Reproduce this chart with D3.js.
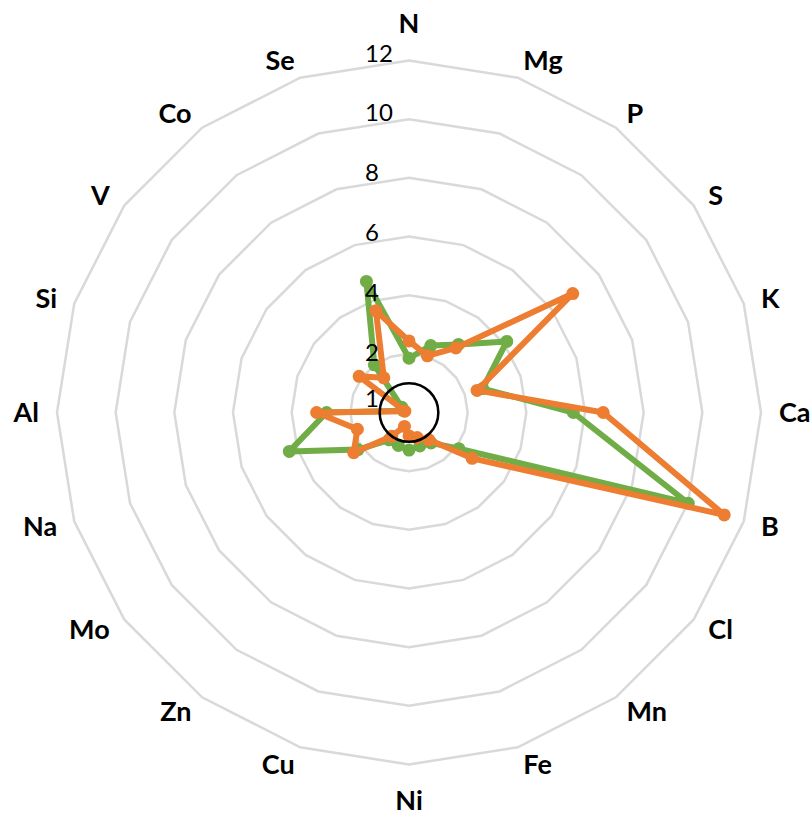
<!DOCTYPE html>
<html>
<head>
<meta charset="utf-8">
<script src="https://cdn.jsdelivr.net/npm/d3@7"></script>
<style>
  body { margin: 0; background: #fff; }
  text { font-family: Lato, "Liberation Sans", sans-serif; }
</style>
</head>
<body>
<div id="radar"></div>
<script>
var categories = ["N", "Mg", "P", "S", "K", "Ca", "B", "Cl", "Mn", "Fe", "Ni", "Cu", "Zn", "Mo", "Na", "Al", "Si", "V", "Co", "Se"];
var greenValues = [1.85, 2.40, 2.87, 4.12, 2.64, 5.60, 10.01, 2.10, 1.28, 1.20, 1.28, 1.18, 1.15, 2.15, 4.29, 2.81, 0.20, 0.30, 2.01, 4.70];
var orangeValues = [2.44, 2.03, 2.72, 6.90, 2.44, 6.62, 11.30, 2.66, 1.15, 0.90, 0.80, 0.50, 1.00, 2.33, 1.85, 3.15, 0.15, 2.10, 1.46, 3.65];
var tickValues = [2, 4, 6, 8, 10, 12];
var thresholdValue = 1;

function drawRadar() {
    var width = 810, height = 816;
    var cx = 409, cy = 412.5, radius = 352;

    var svg = d3.select("#radar")
        .append("svg")
        .attr("width", width)
        .attr("height", height);

    var g = svg.append("g")
        .attr("transform", "translate(" + cx + "," + cy + ")");

    var r = d3.scaleLinear().domain([0, 12]).range([0, radius]);
    var angle = d3.scalePoint()
        .domain(categories)
        .range([0, 2 * Math.PI * (categories.length - 1) / categories.length]);

    function px(cat, v) { return r(v) * Math.sin(angle(cat)); }
    function py(cat, v) { return -r(v) * Math.cos(angle(cat)); }

    // grid polygons
    g.append("g")
        .selectAll("polygon")
        .data(tickValues)
        .enter().append("polygon")
        .attr("points", function(t) {
            return categories.map(function(c) { return px(c, t) + "," + py(c, t); }).join(" ");
        })
        .attr("fill", "none")
        .attr("stroke", "#d9d9d9")
        .attr("stroke-width", 2.5);

    // series
    var series = [
        {name: "green", values: greenValues, color: "#70ad47"},
        {name: "orange", values: orangeValues, color: "#ed7d31"}
    ];

    var line = d3.lineRadial()
        .angle(function(d, i) { return angle(categories[i]); })
        .radius(function(d) { return r(d); })
        .curve(d3.curveLinearClosed);

    var sg = g.selectAll(".series")
        .data(series)
        .enter().append("g")
        .attr("class", "series");

    sg.append("path")
        .attr("d", function(s) { return line(s.values); })
        .attr("fill", "none")
        .attr("stroke", function(s) { return s.color; })
        .attr("stroke-width", 6)
        .attr("stroke-linejoin", "round");

    sg.selectAll("circle")
        .data(function(s) { return s.values.map(function(v, i) { return {v: v, c: categories[i], color: s.color}; }); })
        .enter().append("circle")
        .attr("cx", function(d) { return px(d.c, d.v); })
        .attr("cy", function(d) { return py(d.c, d.v); })
        .attr("r", 6.5)
        .attr("fill", function(d) { return d.color; });

    // threshold circle at 1
    g.append("circle")
        .attr("r", r(thresholdValue))
        .attr("fill", "none")
        .attr("stroke", "#000")
        .attr("stroke-width", 2.5);

    // tick labels (drawn over the series, as in the original)
    g.append("g")
        .selectAll("text")
        .data(tickValues)
        .enter().append("text")
        .attr("x", -44)
        .attr("y", function(t) { return -r(t) + 1 + (12 - t) * 0.6; })
        .attr("font-size", 24)
        .attr("fill", "#000")
        .text(function(t) { return t; });

    g.append("text")
        .attr("x", -44)
        .attr("y", -6)
        .attr("font-size", 24)
        .attr("fill", "#000")
        .text(thresholdValue);

    // category labels
    g.append("g")
        .selectAll("text")
        .data(categories)
        .enter().append("text")
        .attr("x", function(c) { return (radius + 18) * Math.sin(angle(c)); })
        .attr("y", function(c) {
            var s = Math.sin(angle(c)), co = Math.cos(angle(c));
            var y = -(radius + 18) * co;
            if (Math.abs(s) < 0.01) return co > 0 ? y - 10 : y + 27;
            return y + 9.5;
        })
        .attr("text-anchor", function(c) {
            var s = Math.sin(angle(c));
            if (Math.abs(s) < 0.01) return "middle";
            return s > 0 ? "start" : "end";
        })
        .attr("font-size", 27)
        .attr("font-weight", "bold")
        .attr("fill", "#000")
        .text(function(c) { return c; });
}

drawRadar();
</script>
</body>
</html>
